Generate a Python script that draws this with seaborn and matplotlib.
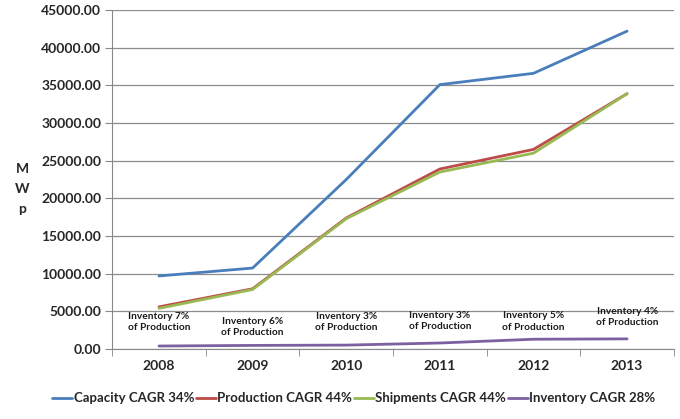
import numpy as np
import pandas as pd
import matplotlib
matplotlib.use("Agg")
import matplotlib.pyplot as plt
import seaborn as sns

years = ['2008', '2009', '2010', '2011', '2012', '2013']
capacity = [9700, 10750, 22500, 35100, 36600, 42200]
production = [5600, 8000, 17400, 23900, 26500, 33900]
shipments = [5400, 7900, 17300, 23500, 26000, 33900]
inventory = [400, 480, 520, 800, 1300, 1350]
inv_share = ['7%', '6%', '3%', '3%', '5%', '4%']
inv_label_y = [3600, 2900, 3600, 3700, 3650, 4200]

series_names = ['Capacity CAGR 34%', 'Production CAGR 44%',
                'Shipments CAGR 44%', 'Inventory CAGR 28%']
colors = ['#4A7EBB', '#BE4B48', '#98B954', '#7D60A0']

# long-form table for seaborn
rows = []
for name, vals in zip(series_names, [capacity, production, shipments, inventory]):
    for i, v in enumerate(vals):
        rows.append({'pos': i, 'MWp': v, 'series': name})
df = pd.DataFrame(rows)

sns.set_style("white")
plt.rcParams['font.family'] = ['Lato', 'DejaVu Sans']

fig = plt.figure(figsize=(6.8, 4.19), dpi=100)
ax = fig.add_axes([0.165, 0.167, 0.826, 0.809])

sns.lineplot(data=df, x='pos', y='MWp', hue='series', hue_order=series_names,
             palette=colors, linewidth=2, ax=ax, legend=True)

# inventory share notes
for i, (s, yv) in enumerate(zip(inv_share, inv_label_y)):
    ax.text(i, yv, f'Inventory {s}\nof Production', ha='center', va='center',
            fontsize=7.3, fontweight='bold', color='#1a1a1a', linespacing=1.3)

ax.set_xlim(-0.5, 5.5)
ax.set_ylim(0, 45000)
ax.set_yticks(np.arange(0, 45001, 5000))
ax.set_yticklabels([f'{v:.2f}' for v in np.arange(0, 45001, 5000)],
                   fontsize=10, fontweight='bold')
ax.set_xticks(range(len(years)))
ax.set_xticklabels(years, fontsize=10, fontweight='bold')
ax.set_xticks(np.arange(-0.5, 5.6, 1), minor=True)
ax.tick_params(axis='x', which='major', length=0, pad=8)
ax.tick_params(axis='x', which='minor', length=5, direction='out', color='#888888', bottom=True)
ax.tick_params(axis='y', length=5, direction='out', color='#888888', left=True, pad=3)

ax.yaxis.grid(True, color='#8c8c8c', linewidth=0.9)
ax.set_axisbelow(True)
for sp in ['top', 'right']:
    ax.spines[sp].set_visible(False)
ax.spines['left'].set_color('#888888')
ax.spines['bottom'].set_color('#888888')

ax.set_xlabel('')
ax.set_ylabel('M\nW\np', rotation=0, fontsize=10, fontweight='bold',
              labelpad=0, linespacing=1.8)
ax.yaxis.set_label_coords(-0.16, 0.395)

handles, labels = ax.get_legend_handles_labels()
ax.legend(handles, labels, loc='center', bbox_to_anchor=(0.43, -0.145),
          ncol=4, frameon=False, handlelength=1.5,
          handletextpad=0.1, columnspacing=0.15,
          prop={'weight': 'bold', 'size': 9.5})

fig.savefig('out.png', dpi=100)
